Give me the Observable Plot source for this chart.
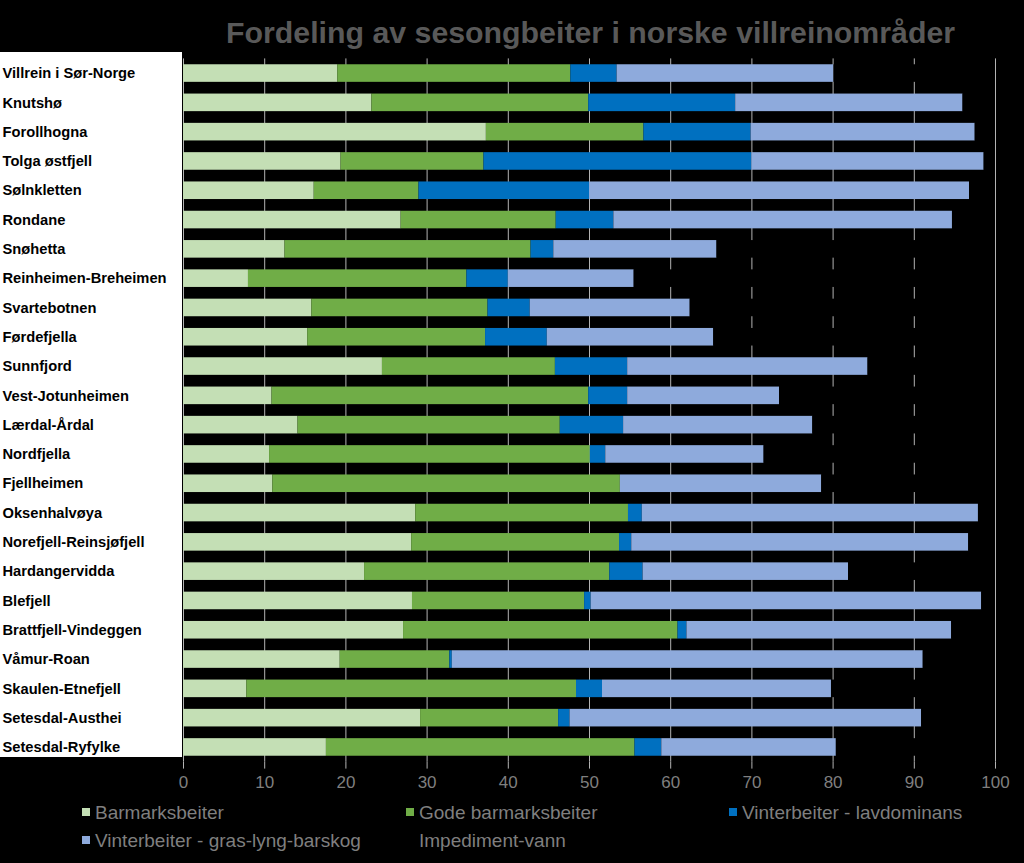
<!DOCTYPE html>
<html>
<head>
<meta charset="utf-8">
<script src="https://cdn.jsdelivr.net/npm/d3@7"></script>
<script src="https://cdn.jsdelivr.net/npm/@observablehq/plot@0.6"></script>
<style>
  body { margin: 0; background: #000; }
  #wrap { position: relative; width: 1024px; height: 863px; overflow: hidden; background: #000;
          font-family: "Liberation Sans", Arial, sans-serif; }
  #panel { position: absolute; left: 0; top: 52px; width: 182px; height: 705px; background: #fff; }
  #title { position: absolute; left: 226px; top: 18px; font-size: 30.3px; line-height: 30px; font-weight: bold;
           color: #595959; white-space: nowrap; }
  #chart { position: absolute; left: 0; top: 0; }
  .lg { position: absolute; font-size: 19px; line-height: 19px; color: #7f7f7f; white-space: nowrap; }
  .sw { position: absolute; width: 8px; height: 8px; }
</style>
</head>
<body>
<div id="wrap">
  <div id="panel"></div>
  <div id="title">Fordeling av sesongbeiter i norske villreinområder</div>
  <div id="chart"></div>
</div>
<script>
const categories = [
  "Villrein i Sør-Norge", "Knutshø", "Forollhogna", "Tolga østfjell", "Sølnkletten", "Rondane",
  "Snøhetta", "Reinheimen-Breheimen", "Svartebotnen", "Førdefjella", "Sunnfjord", "Vest-Jotunheimen",
  "Lærdal-Årdal", "Nordfjella", "Fjellheimen", "Oksenhalvøya", "Norefjell-Reinsjøfjell", "Hardangervidda",
  "Blefjell", "Brattfjell-Vindeggen", "Våmur-Roan", "Skaulen-Etnefjell", "Setesdal-Austhei", "Setesdal-Ryfylke"
];
const barmarksbeiter      = [19.0, 23.2, 37.3, 19.4, 16.1, 26.8, 12.5,  8.0, 15.8, 15.3, 24.5, 10.9, 14.1, 10.6, 11.0, 28.6, 28.1, 22.3, 28.2, 27.1, 19.3,  7.8, 29.2, 17.6];
const godeBarmarksbeiter  = [28.7, 26.7, 19.4, 17.6, 12.9, 19.1, 30.3, 26.9, 21.7, 21.9, 21.3, 39.0, 32.3, 39.5, 42.8, 26.2, 25.6, 30.2, 21.2, 33.8, 13.5, 40.6, 17.0, 38.0];
const vinterLavdominans   = [ 5.7, 18.1, 13.2, 33.0, 21.0,  7.1,  2.8,  5.1,  5.2,  7.6,  8.9,  4.8,  7.8,  1.9,  0.0,  1.7,  1.5,  4.1,  0.8,  1.1,  0.3,  3.2,  1.4,  3.3];
const vinterGrasLyng      = [26.7, 28.0, 27.6, 28.6, 46.8, 41.7, 20.1, 15.5, 19.7, 20.5, 29.6, 18.7, 23.3, 19.5, 24.8, 41.4, 41.5, 25.3, 48.1, 32.6, 58.0, 28.2, 43.3, 21.5];
const impedimentVann      = [19.9,  4.0,  2.5,  1.4,  3.2,  5.3, 34.3, 44.5, 37.6, 34.7, 15.7, 26.6, 22.5, 28.5, 21.4,  2.1,  3.3, 18.1,  1.7,  5.4,  8.9, 20.2,  9.1, 19.6];

const seriesNames = ["Barmarksbeiter", "Gode barmarksbeiter", "Vinterbeiter - lavdominans",
                     "Vinterbeiter - gras-lyng-barskog", "Impediment-vann"];
const seriesColors = ["#c4dfb5", "#70ad47", "#0070c0", "#8eaadc", "#000000"];
const xTicks = [0, 10, 20, 30, 40, 50, 60, 70, 80, 90, 100];

const seriesValues = [barmarksbeiter, godeBarmarksbeiter, vinterLavdominans, vinterGrasLyng, impedimentVann];
const rows = [];
categories.forEach((c, i) => {
  seriesValues.forEach((arr, j) => rows.push({area: c, serie: seriesNames[j], value: arr[i]}));
});

const chart = Plot.plot({
  width: 1024,
  height: 863,
  marginTop: 58.4,
  marginBottom: 101.4,
  marginLeft: 183,
  marginRight: 29,
  style: {background: "transparent", fontFamily: "Liberation Sans, Arial, sans-serif", overflow: "visible"},
  x: {domain: [0, 100]},
  y: {domain: categories, paddingInner: 0.4, paddingOuter: 0.2, round: false},
  color: {domain: seriesNames, range: seriesColors},
  marks: [
    Plot.gridX(xTicks, {stroke: "#b3b3b3", strokeOpacity: 1}),
    Plot.barX(rows, Plot.stackX({y: "area", x: "value", fill: "serie", order: seriesNames})),
    Plot.axisX(xTicks, {tickSize: 7, tickPadding: 7, stroke: "#b3b3b3", fill: "#7f7f7f",
                        fontSize: 17, label: null, tickFormat: d => String(d)}),
    Plot.axisY({tickSize: 0, tickPadding: 0, textAnchor: "start", dx: -181, fontSize: 14.7,
                fontWeight: "bold", fill: "#000", label: null})
  ]
});
document.getElementById("chart").appendChild(chart);

// legend (HTML) built from series arrays
const wrap = document.getElementById("wrap");
const legendCols = [82, 406, 729];
const legendRows = [803, 831];
seriesNames.forEach((name, k) => {
  const col = k % 3, row = Math.floor(k / 3);
  const sw = document.createElement("div");
  sw.className = "sw";
  sw.style.left = legendCols[col] + "px";
  sw.style.top = (legendRows[row] + 5) + "px";
  sw.style.background = seriesColors[k];
  wrap.appendChild(sw);
  const t = document.createElement("div");
  t.className = "lg";
  t.style.left = (legendCols[col] + 13) + "px";
  t.style.top = legendRows[row] + "px";
  t.textContent = name;
  wrap.appendChild(t);
});
</script>
</body>
</html>
